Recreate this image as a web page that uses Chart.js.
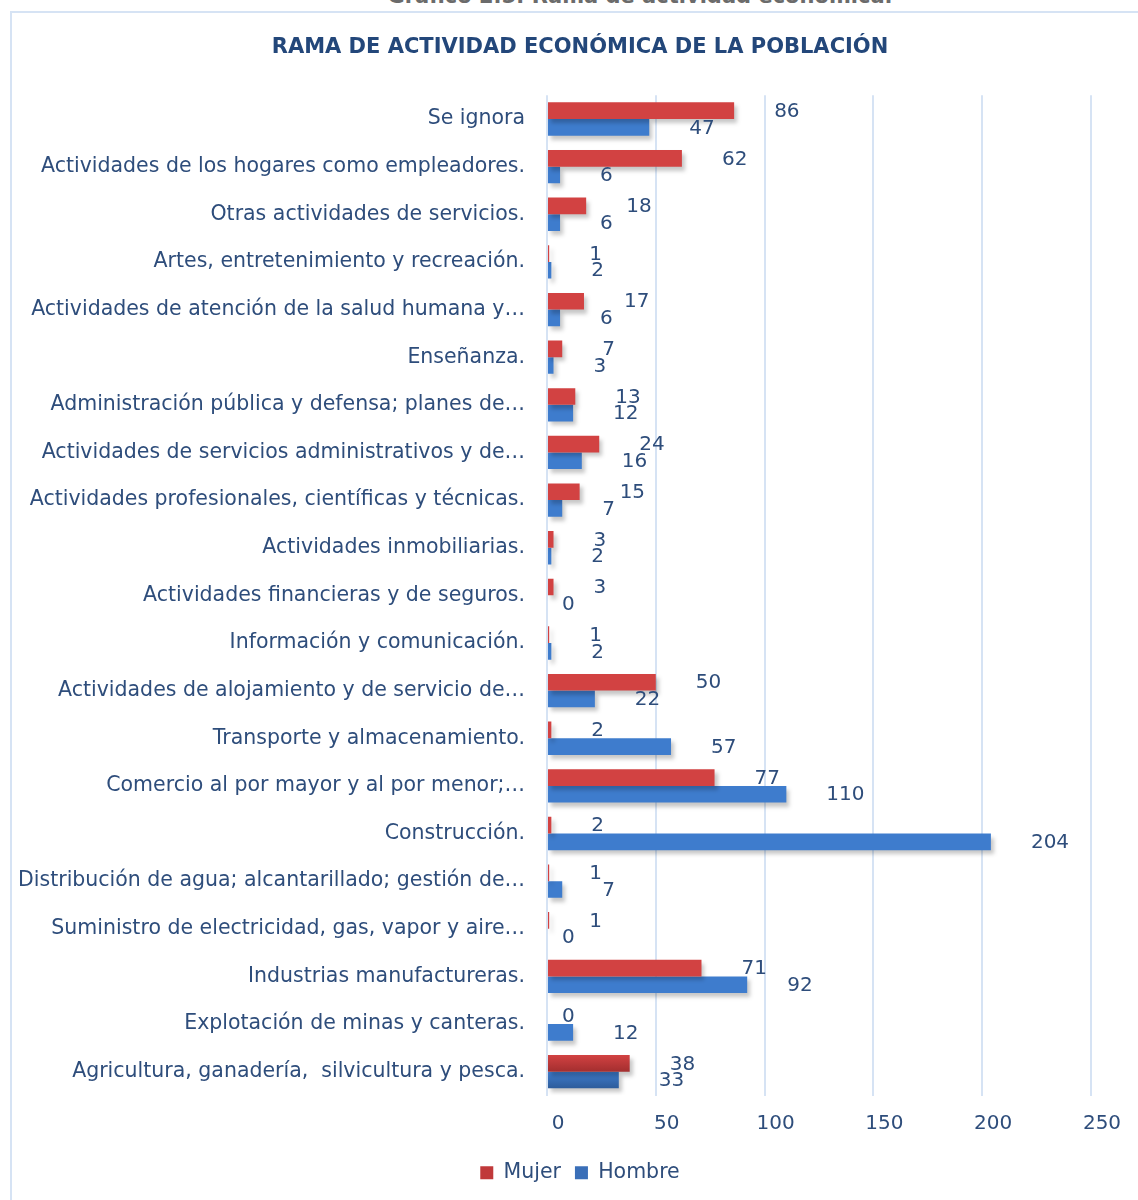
<!DOCTYPE html>
<html>
<head>
<meta charset="utf-8">
<script src="https://cdn.jsdelivr.net/npm/chart.js@4.4.1/dist/chart.umd.min.js"></script>
<style>
  html, body { margin: 0; padding: 0; background: #ffffff; }
  body { width: 1138px; height: 1200px; position: relative; overflow: hidden; }
  #frame { position: absolute; left: 10px; top: 11px; width: 1200px; height: 1300px;
           border-left: 2px solid #D6E3F4; border-top: 2px solid #D6E3F4; box-sizing: border-box; }
  #cap { position: absolute; top: -16px; left: 0; width: 1280px; text-align: center;
         font: bold 21px "DejaVu Sans", sans-serif; color: #6b6b6b; }
  #wrap { position: absolute; left: 0; top: 0; width: 1138px; height: 1200px; }
</style>
</head>
<body>
<div id="cap">Gráfico 2.5: Rama de actividad económica.</div>
<div id="frame"></div>
<div id="wrap"><canvas id="c" width="1138" height="1200"></canvas></div>
<script>
const categories = [
  "Se ignora",
  "Actividades de los hogares como empleadores.",
  "Otras actividades de servicios.",
  "Artes, entretenimiento y recreación.",
  "Actividades de atención de la salud humana y…",
  "Enseñanza.",
  "Administración pública y defensa; planes de…",
  "Actividades de servicios administrativos y de…",
  "Actividades profesionales, científicas y técnicas.",
  "Actividades inmobiliarias.",
  "Actividades financieras y de seguros.",
  "Información y comunicación.",
  "Actividades de alojamiento y de servicio de…",
  "Transporte y almacenamiento.",
  "Comercio al por mayor y al por menor;…",
  "Construcción.",
  "Distribución de agua; alcantarillado; gestión de…",
  "Suministro de electricidad, gas, vapor y aire…",
  "Industrias manufactureras.",
  "Explotación de minas y canteras.",
  "Agricultura, ganadería,  silvicultura y pesca."
];
const mujer  = [86, 62, 18, 1, 17, 7, 13, 24, 15, 3, 3, 1, 50, 2, 77, 2, 1, 1, 71, 0, 38];
const hombre = [47, 6, 6, 2, 6, 3, 12, 16, 7, 2, 0, 2, 22, 57, 110, 204, 7, 0, 92, 12, 33];
const xTicks = [0, 50, 100, 150, 200, 250];

const TEXT = '#2E4D7B';
const FONT = '"DejaVu Sans", sans-serif';
const PADL = 69;

const gradientPlugin = {
  id: 'barGradient',
  beforeDatasetsDraw(chart) {
    const ctx = chart.ctx;
    const stops = [['#D24242', '#A32E2F'], ['#3E7CCD', '#2D5C9B']];
    chart.data.datasets.forEach((ds, i) => {
      const meta = chart.getDatasetMeta(i);
      meta.data.forEach(bar => {
        const h = bar.height || 16;
        const g = ctx.createLinearGradient(0, bar.y - h / 2, 0, bar.y + h / 2);
        g.addColorStop(0, stops[i][0]);
        g.addColorStop(1, stops[i][1]);
        bar.options.backgroundColor = g;
      });
    });
  },
  beforeDatasetDraw(chart) {
    const ctx = chart.ctx;
    ctx.save();
    ctx.shadowColor = 'rgba(0,0,0,0.22)';
    ctx.shadowBlur = 4;
    ctx.shadowOffsetX = 3;
    ctx.shadowOffsetY = 4;
  },
  afterDatasetDraw(chart) {
    chart.ctx.restore();
  }
};

const valueLabels = {
  id: 'valueLabels',
  afterDatasetsDraw(chart) {
    const ctx = chart.ctx;
    ctx.save();
    ctx.font = '20px ' + FONT;
    ctx.fillStyle = TEXT;
    ctx.textAlign = 'left';
    ctx.textBaseline = 'middle';
    chart.data.datasets.forEach((ds, i) => {
      const meta = chart.getDatasetMeta(i);
      meta.data.forEach((bar, j) => {
        const v = ds.data[j];
        const off = v === 0 ? 15 : 40;
        ctx.fillText(String(v), bar.x + off, bar.y + 1);
      });
    });
    ctx.restore();
  }
};

new Chart(document.getElementById('c'), {
  type: 'bar',
  data: {
    labels: categories,
    datasets: [
      { label: 'Mujer', data: mujer, backgroundColor: '#C0393A', borderWidth: 0,
        categoryPercentage: 0.7, barPercentage: 1.0 },
      { label: 'Hombre', data: hombre, backgroundColor: '#3A6FB8', borderWidth: 0,
        categoryPercentage: 0.7, barPercentage: 1.0 }
    ]
  },
  options: {
    indexAxis: 'y',
    responsive: false,
    animation: false,
    devicePixelRatio: 1,
    layout: { padding: { left: PADL, right: 47, top: 0, bottom: 7 } },
    scales: {
      x: {
        min: 0, max: 250,
        afterBuildTicks(scale) { scale.ticks = xTicks.map(v => ({ value: v })); },
        grid: { color: '#D6E3F4', lineWidth: 2, drawTicks: false },
        border: { display: false },
        ticks: { color: TEXT, font: { size: 20, family: FONT }, padding: 16, labelOffset: 11 },
        afterFit(scale) { scale.height = 53; }
      },
      y: {
        grid: { display: false, drawTicks: false },
        border: { display: false },
        ticks: { color: TEXT, font: { size: 20.5, family: FONT }, padding: 22, autoSkip: false },
        afterFit(scale) {
          scale.width = 547 - PADL;
          scale._computeLabelArea = () => null;
        }
      }
    },
    plugins: {
      title: {
        display: true,
        text: 'RAMA DE ACTIVIDAD ECONÓMICA DE LA POBLACIÓN',
        color: '#23477A',
        font: { size: 21, weight: 'bold', family: FONT },
        padding: { top: 35, bottom: 35 }
      },
      legend: {
        position: 'bottom',
        labels: {
          color: TEXT,
          font: { size: 20.5, family: FONT },
          boxWidth: 13, boxHeight: 13,
          padding: 14,
          generateLabels(chart) {
            const cols = ['#C0393A', '#3A6FB8'];
            return chart.data.datasets.map((ds, i) => ({
              text: ds.label, fillStyle: cols[i], strokeStyle: cols[i], lineWidth: 0,
              fontColor: TEXT, datasetIndex: i, hidden: false
            }));
          }
        }
      },
      tooltip: { enabled: false }
    }
  },
  plugins: [gradientPlugin, valueLabels]
});
</script>
</body>
</html>
